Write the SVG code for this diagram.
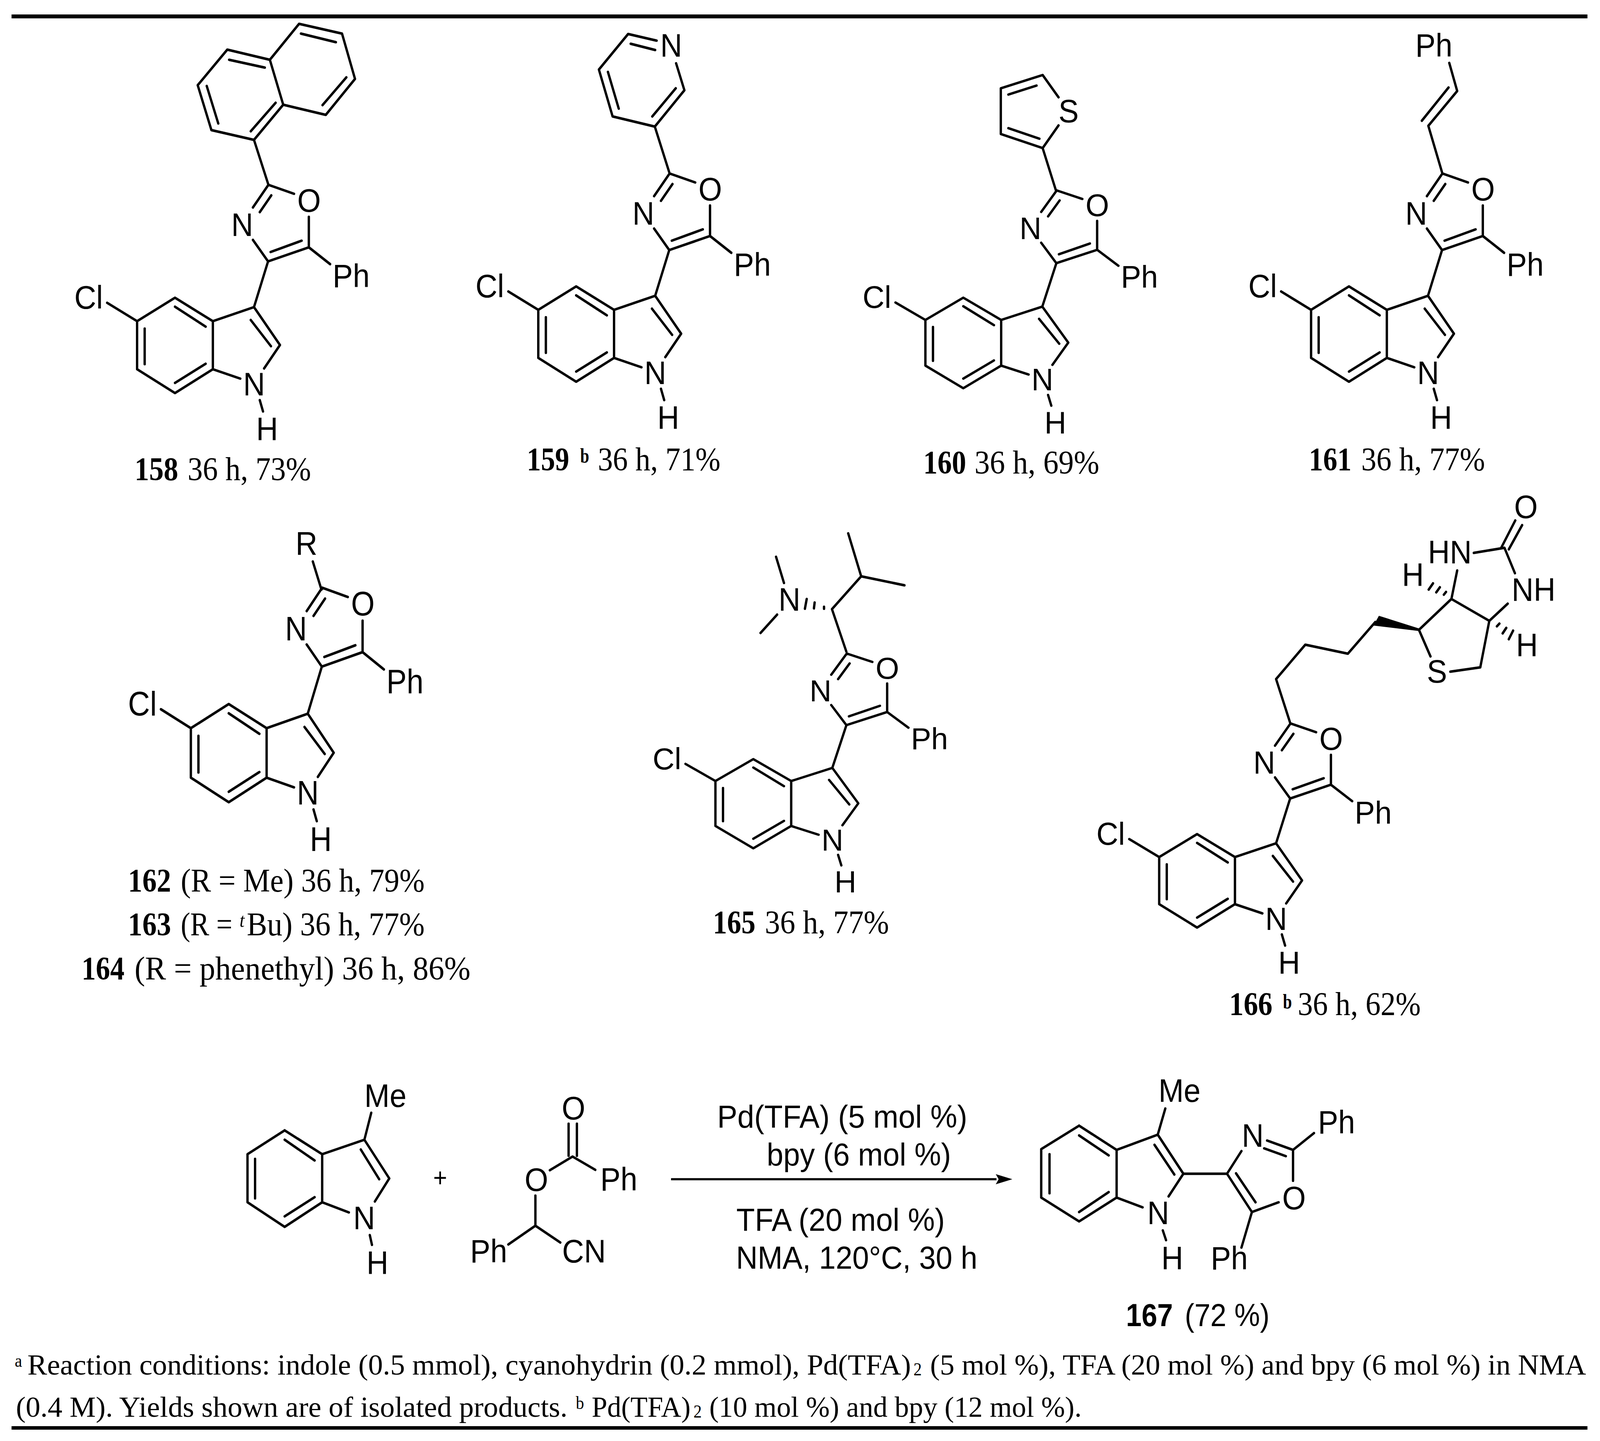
<svg xmlns="http://www.w3.org/2000/svg" xmlns:xlink="http://www.w3.org/1999/xlink" width="4435" height="3688" viewBox="0 0 4435 3688">
<style>
.b{fill:none;stroke:#000;stroke-width:6.5;stroke-linecap:round;stroke-linejoin:round}
.a{font-family:"Liberation Sans",Arial,sans-serif;font-size:84px;fill:#000}
.r{font-family:"Liberation Sans",Arial,sans-serif;font-size:82px;fill:#000}
.rb{font-family:"Liberation Sans",Arial,sans-serif;font-size:82px;font-weight:bold;fill:#000}
.c{font-family:"Liberation Serif","Times New Roman",serif;font-size:84px;fill:#000}
.cb{font-family:"Liberation Serif","Times New Roman",serif;font-size:84px;font-weight:bold;fill:#000}
.s{font-family:"Liberation Serif","Times New Roman",serif;font-size:50px;fill:#000}
.sb{font-family:"Liberation Serif","Times New Roman",serif;font-size:52px;font-weight:bold;fill:#000}
.si{font-family:"Liberation Serif","Times New Roman",serif;font-size:50px;font-style:italic;fill:#000}
.f{font-family:"Liberation Serif","Times New Roman",serif;font-size:74px;fill:#000}
.fs{font-family:"Liberation Serif","Times New Roman",serif;font-size:46px;fill:#000}
</style>
<defs>
<marker id="arrowhead" markerUnits="userSpaceOnUse" markerWidth="50" markerHeight="30" refX="2" refY="15" orient="auto"><path d="M0 2L46 15L0 28L8 15Z" fill="#000"/></marker>
<path id="core" class="b" d="M744 473L815 496M744 473L701 531M752 500L720 543M701 614L743 669L856 633L856 555M750 645L836 616M856 633L915 676M743 669L704 786L590 822L485 762L380 822L380 945L485 1006L590 945L590 822M704 786L776 883L732 943M590 945L666 969M720 1024L729 1053M297 775L380 822M485 785L570 836M401 841L401 932M485 980L570 931M695 819L751 886"/>
</defs>
<g id="drawing" transform="scale(0.9236,1)">
<g id="rules"><rect x="32" y="37" width="4368" height="10"/><rect x="32" y="3650" width="4368" height="9"/></g>

<g id="compound-158">
<g id="core-158"><use href="#core"/>
<text class="a" x="824" y="542">O</text><text class="a" x="641" y="604">N</text><text class="a" x="922" y="735">Ph</text><text class="a" x="674" y="1012">N</text><text class="a" x="710" y="1127">H</text><text class="a" x="206" y="790">Cl</text></g>
<path class="b" d="M744 473L704 358L586 333L548 218L630 127L748 153L785 268L704 358M748 153L829 61L948 86L984 202L903 294L785 268M764 263L695 336M573 220L605 316M635 153L734 173M834 86L931 108M960 198L894 269"/>
<text class="cb" x="373" y="1229" textLength="121" lengthAdjust="spacingAndGlyphs">158</text><text class="c" x="520" y="1229" textLength="342" lengthAdjust="spacingAndGlyphs">36 h, 73%</text>
</g>

<g id="compound-159">
<g id="core-159" transform="translate(1112,-29)"><use href="#core"/>
<text class="a" x="824" y="542">O</text><text class="a" x="641" y="604">N</text><text class="a" x="922" y="735">Ph</text><text class="a" x="674" y="1012">N</text><text class="a" x="710" y="1127">H</text><text class="a" x="206" y="790">Cl</text></g>
<path class="b" d="M1855 441L1815 324L1698 298L1660 178L1741 87L1820 104M1874 162L1897 231L1815 324M1748 112L1816 128M1685 184L1715 278M1808 298L1873 226"/>
<text class="a" x="1830" y="145">N</text>
<text class="cb" x="1460" y="1204" textLength="118" lengthAdjust="spacingAndGlyphs">159</text><text class="sb" x="1608" y="1184" textLength="25" lengthAdjust="spacingAndGlyphs">b</text><text class="c" x="1657" y="1204" textLength="340" lengthAdjust="spacingAndGlyphs">36 h, 71%</text>
</g>

<g id="compound-160">
<g id="core-160" transform="matrix(1,0,0,0.95,2185,38)"><use href="#core"/>
<text class="a" x="824" y="542">O</text><text class="a" x="641" y="604">N</text><text class="a" x="922" y="735">Ph</text><text class="a" x="674" y="1012">N</text><text class="a" x="710" y="1127">H</text><text class="a" x="206" y="790">Cl</text></g>
<path class="b" d="M2927 488L2890 379L2774 343L2774 226L2890 192L2934 249M2934 321L2890 379M2795 242L2873 219M2795 328L2881 355"/>
<text class="a" x="2934" y="313">S</text>
<text class="cb" x="2559" y="1212" textLength="119" lengthAdjust="spacingAndGlyphs">160</text><text class="c" x="2701" y="1212" textLength="346" lengthAdjust="spacingAndGlyphs">36 h, 69%</text>
</g>

<g id="compound-161">
<g id="core-161" transform="translate(3254,-29)"><use href="#core"/>
<text class="a" x="824" y="542">O</text><text class="a" x="641" y="604">N</text><text class="a" x="922" y="735">Ph</text><text class="a" x="674" y="1012">N</text><text class="a" x="710" y="1127">H</text><text class="a" x="206" y="790">Cl</text></g>
<path class="b" d="M3997 441L3959 322L4039 233L4017 161M3941 309L4015 224"/>
<text class="a" x="3923" y="145">Ph</text>
<text class="cb" x="3628" y="1204" textLength="118" lengthAdjust="spacingAndGlyphs">161</text><text class="c" x="3773" y="1204" textLength="343" lengthAdjust="spacingAndGlyphs">36 h, 77%</text>
</g>

<g id="compound-162-164">
<g id="core-162" transform="matrix(1,0,0,1.03,149,1017)"><use href="#core"/>
<text class="a" x="824" y="542">O</text><text class="a" x="641" y="604">N</text><text class="a" x="922" y="735">Ph</text><text class="a" x="674" y="1012">N</text><text class="a" x="710" y="1127">H</text><text class="a" x="206" y="790">Cl</text></g>
<path class="b" d="M891 1509L867 1437"/>
<text class="a" x="819" y="1420">R</text>
<text class="cb" x="355" y="2282" textLength="119" lengthAdjust="spacingAndGlyphs">162</text><text class="c" x="501" y="2282" textLength="676" lengthAdjust="spacingAndGlyphs">(R = Me) 36 h, 79%</text>
<text class="cb" x="355" y="2394" textLength="119" lengthAdjust="spacingAndGlyphs">163</text><text class="c" x="501" y="2394" textLength="143" lengthAdjust="spacingAndGlyphs">(R =</text><text class="si" x="664" y="2372">t</text><text class="c" x="684" y="2394" textLength="493" lengthAdjust="spacingAndGlyphs">Bu) 36 h, 77%</text>
<text class="cb" x="226" y="2507" textLength="119" lengthAdjust="spacingAndGlyphs">164</text><text class="c" x="373" y="2507" textLength="931" lengthAdjust="spacingAndGlyphs">(R = phenethyl) 36 h, 86%</text>
</g>

<g id="compound-165">
<g id="core-165" transform="matrix(1,0,0,0.935,1603,1230.4)"><use href="#core"/>
<text class="a" x="824" y="542">O</text><text class="a" x="641" y="604">N</text><text class="a" x="922" y="735">Ph</text><text class="a" x="674" y="1012">N</text><text class="a" x="710" y="1127">H</text><text class="a" x="206" y="790">Cl</text></g>
<path class="b" d="M2346 1668L2306 1559L2387 1475L2351 1365M2387 1475L2507 1498M2173 1492L2151 1425M2154 1573L2108 1620M2284 1553L2284 1558M2258 1542L2256 1557M2236 1533L2231 1558"/>
<text class="a" x="2158" y="1563">N</text>
<text class="cb" x="1976" y="2389" textLength="118" lengthAdjust="spacingAndGlyphs">165</text><text class="c" x="2120" y="2389" textLength="344" lengthAdjust="spacingAndGlyphs">36 h, 77%</text>
</g>

<g id="compound-166">
<g id="core-166" transform="matrix(1,0,0,0.98,2833,1388)"><use href="#core"/>
<text class="a" x="824" y="542">O</text><text class="a" x="641" y="604">N</text><text class="a" x="922" y="735">Ph</text><text class="a" x="674" y="1012">N</text><text class="a" x="710" y="1127">H</text><text class="a" x="206" y="790">Cl</text></g>
<path class="b" d="M3576 1850L3537 1738L3618 1650L3736 1673L3812 1592M3933 1612L3965 1680M4020 1719L4103 1708L4128 1589L4023 1533L3933 1612M4023 1533L4039 1460M4085 1415L4170 1402L4199 1467M4179 1545L4128 1589M4161 1402L4200 1332M4182 1406L4219 1344M3960 1509L3972 1493M3981 1516L3991 1503M4002 1522L4008 1515M4149 1603L4156 1596M4165 1621L4175 1607M4182 1636L4194 1614"/>
<path d="M3822 1576L3807 1601L3933 1615L3935 1609Z" fill="#000"/>
<text class="a" x="3958" y="1442">HN</text><text class="a" x="4190" y="1538">NH</text><text class="a" x="4197" y="1326">O</text><text class="a" x="3955" y="1747">S</text><text class="a" x="3886" y="1500">H</text><text class="a" x="4202" y="1680">H</text>
<text class="cb" x="3407" y="2598" textLength="120" lengthAdjust="spacingAndGlyphs">166</text><text class="sb" x="3556" y="2581" textLength="25" lengthAdjust="spacingAndGlyphs">b</text><text class="c" x="3597" y="2598" textLength="341" lengthAdjust="spacingAndGlyphs">36 h, 62%</text>
</g>

<g id="reactant-indole">
<path class="b" d="M789 2893L686 2954L686 3077L789 3140L893 3077L893 2954L789 2893M893 2954L1010 2917L1029 2848M1010 2917L1079 3016L1039 3075M893 3077L967 3103M1025 3161L1031 3186M789 2917L872 2970M707 2966L707 3067M789 3113L872 3064M1000 2942L1051 3018"/>
<text class="a" x="1010" y="2833">Me</text><text class="a" x="979" y="3146">N</text><text class="a" x="1016" y="3261">H</text>
</g>
<g id="plus"><text class="a" x="1220" y="3037" text-anchor="middle" style="font-size:66px">+</text></g>
<g id="reactant-cyanohydrin">
<path class="b" d="M1576 2876L1576 2958M1599 2876L1599 2958M1524 2995L1587 2960L1650 2994M1484 3060L1484 3137L1409 3185M1484 3137L1553 3180"/>
<text class="a" x="1557" y="2865">O</text><text class="a" x="1454" y="3048">O</text><text class="a" x="1664" y="3047">Ph</text><text class="a" x="1303" y="3231">Ph</text><text class="a" x="1558" y="3231">CN</text>
</g>
<g id="connectors"><line x1="1860" y1="3018" x2="2762" y2="3018" stroke="#000" stroke-width="5.5" marker-end="url(#arrowhead)"/></g>
<g id="conditions">
<text class="r" x="1988" y="2886" textLength="693" lengthAdjust="spacingAndGlyphs">Pd(TFA) (5 mol %)</text>
<text class="r" x="2125" y="2983" textLength="511" lengthAdjust="spacingAndGlyphs">bpy (6 mol %)</text>
<text class="r" x="2041" y="3150" textLength="578" lengthAdjust="spacingAndGlyphs">TFA (20 mol %)</text>
<text class="r" x="2040" y="3247" textLength="669" lengthAdjust="spacingAndGlyphs">NMA, 120°C, 30 h</text>
</g>
<g id="compound-167">
<path class="b" d="M2991 2881L2886 2941L2886 3065L2991 3126L3095 3065L3095 2943L2991 2881M3095 2943L3209 2904L3230 2837M3209 2904L3280 3004L3239 3062M3095 3065L3167 3090M3223 3149L3232 3174M3280 3004L3401 3004L3441 2946M3401 3004L3470 3102L3544 3077M3470 3102L3441 3193M3512 2919L3584 2943L3642 2900M3504 2939L3564 2959M3584 2943L3584 3022M3426 3003L3480 3077M2991 2906L3073 2957M2909 2954L2909 3054M2991 3102L3073 3051M3200 2930L3255 3006"/>
<text class="a" x="3211" y="2820">Me</text><text class="a" x="3180" y="3133">N</text><text class="a" x="3219" y="3249">H</text><text class="a" x="3356" y="3249">Ph</text><text class="a" x="3442" y="2935">N</text><text class="a" x="3653" y="2901">Ph</text><text class="a" x="3554" y="3095">O</text>
<text class="rb" x="3121" y="3394" textLength="130" lengthAdjust="spacingAndGlyphs">167</text><text class="r" x="3284" y="3394" textLength="235" lengthAdjust="spacingAndGlyphs">(72 %)</text>
</g>
<g id="footnotes">
<text class="fs" x="41" y="3498">a</text>
<text class="f" x="76" y="3518" textLength="2449" lengthAdjust="spacingAndGlyphs">Reaction conditions: indole (0.5 mmol), cyanohydrin (0.2 mmol), Pd(TFA)</text>
<text class="fs" x="2532" y="3520">2</text>
<text class="f" x="2578" y="3518" textLength="1818" lengthAdjust="spacingAndGlyphs">(5 mol %), TFA (20 mol %) and bpy (6 mol %) in NMA</text>
<text class="f" x="44" y="3626" textLength="1529" lengthAdjust="spacingAndGlyphs">(0.4 M). Yields shown are of isolated products.</text>
<text class="fs" x="1596" y="3606">b</text>
<text class="f" x="1640" y="3626" textLength="274" lengthAdjust="spacingAndGlyphs">Pd(TFA)</text>
<text class="fs" x="1922" y="3628">2</text>
<text class="f" x="1966" y="3626" textLength="1032" lengthAdjust="spacingAndGlyphs">(10 mol %) and bpy (12 mol %).</text>
</g>
</g>
</svg>
